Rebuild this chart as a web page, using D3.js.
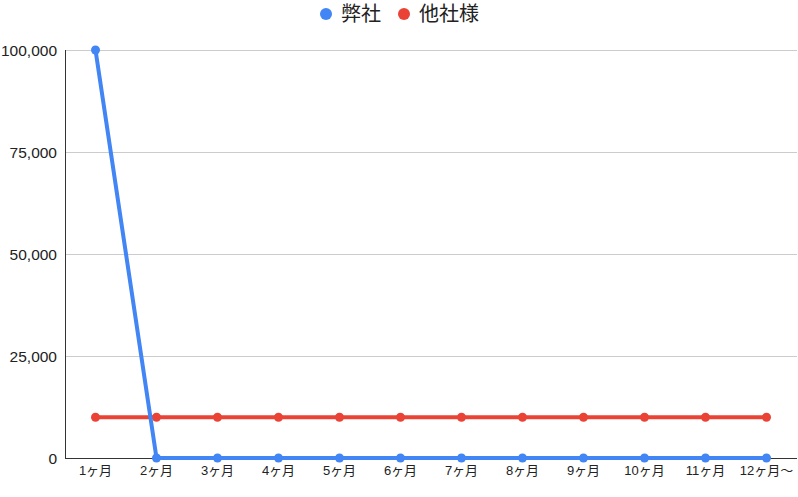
<!DOCTYPE html>
<html><head><meta charset="utf-8">
<script src="https://cdn.jsdelivr.net/npm/d3@7"></script>
<style>body{margin:0;background:#fff;}</style>
</head><body><svg id="c" width="798" height="497"></svg>
<script>
const categories = ["1ヶ月","2ヶ月","3ヶ月","4ヶ月","5ヶ月","6ヶ月","7ヶ月","8ヶ月","9ヶ月","10ヶ月","11ヶ月","12ヶ月〜"];
const seriesNames = ["弊社","他社様"];
const ourValues = [100000,0,0,0,0,0,0,0,0,0,0,0];
const otherValues = [10000,10000,10000,10000,10000,10000,10000,10000,10000,10000,10000,10000];
const yTicks = [0,25000,50000,75000,100000];
const colors = ["#4285F4","#EA4335"];

(function(){
const svg = d3.select("#c");
const mL = 65, mR = 797, mT = 50, mB = 458;
const x = d3.scaleBand().domain(categories).range([mL, mR]).padding(0);
const y = d3.scaleLinear().domain([0,100000]).range([mB, mT]);
const font = '"Liberation Sans",Arial,"Noto Sans CJK JP",sans-serif';

svg.append("g").selectAll("line").data(yTicks.filter(d=>d>0)).join("line")
  .attr("x1", mL).attr("x2", mR).attr("y1", d=>y(d)).attr("y2", d=>y(d))
  .attr("stroke","#cccccc").attr("stroke-width",1).attr("shape-rendering","crispEdges");

svg.append("g").selectAll("text").data(yTicks).join("text")
  .attr("x", 57).attr("y", d=>y(d)).attr("dy","0.36em").attr("text-anchor","end")
  .attr("font-family", font).attr("font-size", 15.5).attr("fill","#222")
  .text(d=>d3.format(",")(d));

svg.append("line").attr("x1",mL).attr("x2",mL).attr("y1",mT).attr("y2",mB)
  .attr("stroke","#333").attr("shape-rendering","crispEdges");
svg.append("line").attr("x1",mL).attr("x2",mR).attr("y1",mB).attr("y2",mB)
  .attr("stroke","#333").attr("shape-rendering","crispEdges");

svg.append("g").selectAll("text").data(categories).join("text")
  .attr("x", d=>x(d)+x.bandwidth()/2).attr("y", 475).attr("text-anchor","middle")
  .attr("font-family", font).attr("font-size", 13).attr("fill","#222")
  .text(d=>d);

const series = [ourValues, otherValues];
const line = d3.line().x((d,i)=>x(categories[i])+x.bandwidth()/2).y(d=>y(d));
[1,0].forEach(s=>{
  const g = svg.append("g");
  g.append("path").datum(series[s]).attr("d", line).attr("fill","none")
    .attr("stroke", colors[s]).attr("stroke-width",4).attr("stroke-linejoin","round");
  g.selectAll("circle").data(series[s]).join("circle")
    .attr("cx",(d,i)=>x(categories[i])+x.bandwidth()/2).attr("cy",d=>y(d)).attr("r",4.5)
    .attr("fill", colors[s]);
});

const legendX = [326, 404];
seriesNames.forEach((n,i)=>{
  svg.append("circle").attr("cx",legendX[i]).attr("cy",14).attr("r",6).attr("fill",colors[i]);
  svg.append("text").attr("x",legendX[i]+15).attr("y",14).attr("dy","0.36em")
    .attr("font-family",font).attr("font-size",20).attr("fill","#222").text(n);
});
})();
</script></body></html>
